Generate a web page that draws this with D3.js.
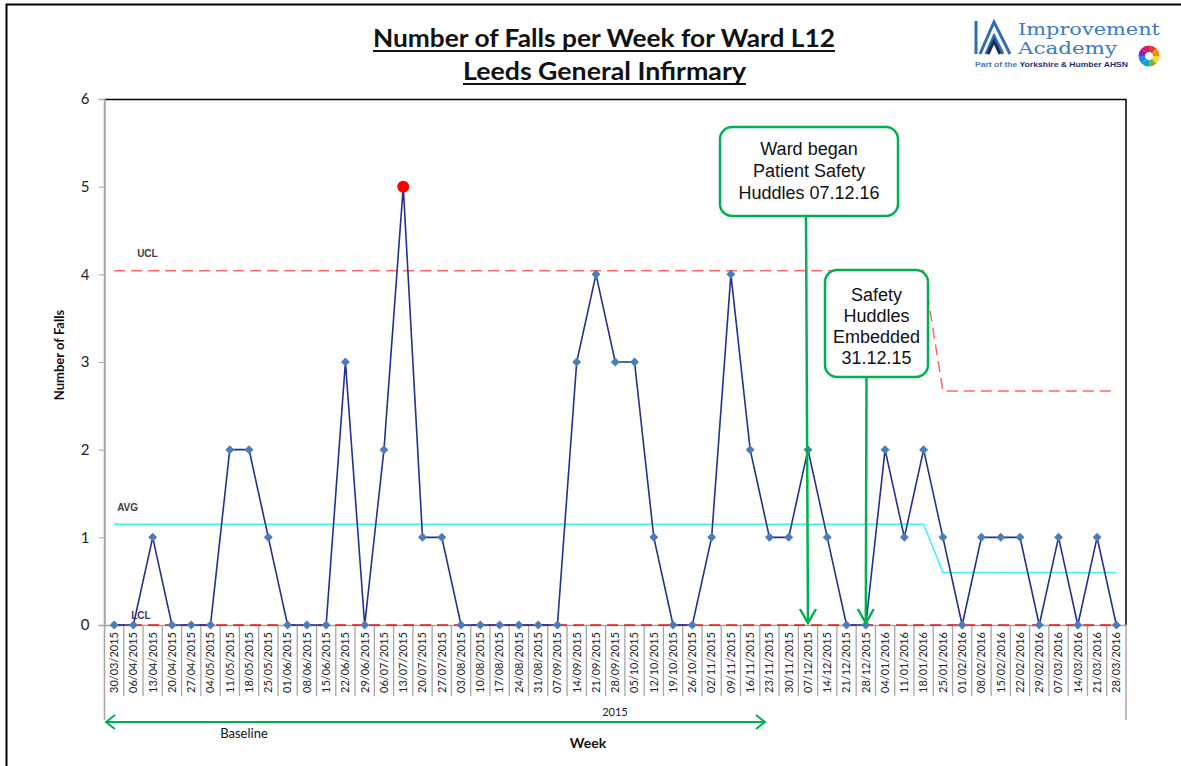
<!DOCTYPE html>
<html>
<head>
<meta charset="utf-8">
<script src="https://cdn.jsdelivr.net/npm/d3@7/dist/d3.min.js"></script>
<style>
  body { margin: 0; background: #fff; }
  svg { display: block; }
</style>
</head>
<body>
<div id="chart"></div>
<script>
// Week commencing dates (category axis)
const weeks = [
  "30/03/2015", "06/04/2015", "13/04/2015", "20/04/2015", "27/04/2015", "04/05/2015",
  "11/05/2015", "18/05/2015", "25/05/2015", "01/06/2015", "08/06/2015", "15/06/2015",
  "22/06/2015", "29/06/2015", "06/07/2015", "13/07/2015", "20/07/2015", "27/07/2015",
  "03/08/2015", "10/08/2015", "17/08/2015", "24/08/2015", "31/08/2015", "07/09/2015",
  "14/09/2015", "21/09/2015", "28/09/2015", "05/10/2015", "12/10/2015", "19/10/2015",
  "26/10/2015", "02/11/2015", "09/11/2015", "16/11/2015", "23/11/2015", "30/11/2015",
  "07/12/2015", "14/12/2015", "21/12/2015", "28/12/2015", "04/01/2016", "11/01/2016",
  "18/01/2016", "25/01/2016", "01/02/2016", "08/02/2016", "15/02/2016", "22/02/2016",
  "29/02/2016", "07/03/2016", "14/03/2016", "21/03/2016", "28/03/2016"
];

// Number of falls each week
const falls = [
  0, 0, 1, 0, 0, 0,
  2, 2, 1, 0, 0, 0,
  3, 0, 2, 5, 1, 1,
  0, 0, 0, 0, 0, 0,
  3, 4, 3, 3, 1, 0,
  0, 1, 4, 2, 1, 1,
  2, 1, 0, 0, 2, 1,
  2, 1, 0, 1, 1, 1,
  0, 1, 0, 1, 0
];

// Control limits, one value per phase (phase starts at the given week)
const phaseStarts = ["30/03/2015", "25/01/2016"];
const uclByPhase = [4.04, 2.67];
const avgByPhase = [1.15, 0.6];
const lclByPhase = [0, 0];

const yTicks = [0, 1, 2, 3, 4, 5, 6];

const annotations = [
  { week: "07/12/2015", lines: ["Ward began", "Patient Safety", "Huddles 07.12.16"] },
  { week: "28/12/2015", lines: ["Safety", "Huddles", "Embedded", "31.12.15"] }
];

// --- set up ---
const width = 1181, height = 766;
const svg = d3.select("#chart").append("svg")
  .attr("width", width)
  .attr("height", height)
  .style("font-family", "Lato, 'Open Sans', sans-serif");

const x = d3.scaleBand().domain(weeks).range([104.5, 1126]).padding(0);
const y = d3.scaleLinear().domain([0, 6]).range([625, 99]);
const cx = w => x(w) + x.bandwidth() / 2;

const phaseOf = i => {
  let p = 0;
  phaseStarts.forEach((s, k) => { if (i >= weeks.indexOf(s)) p = k; });
  return p;
};
const rows = weeks.map((w, i) => ({
  week: w,
  falls: falls[i],
  ucl: uclByPhase[phaseOf(i)],
  avg: avgByPhase[phaseOf(i)],
  lcl: lclByPhase[phaseOf(i)]
}));

// outer frame
svg.append("path")
  .attr("d", "M6.5,766 V4.5 H1181")
  .attr("fill", "none")
  .attr("stroke", "#000")
  .attr("stroke-width", 2);

// --- title ---
const titles = [
  { text: "Number of Falls per Week for Ward L12", y: 47, x1: 373, x2: 835 },
  { text: "Leeds General Infirmary", y: 80, x1: 463, x2: 746 }
];
titles.forEach(t => {
  svg.append("text")
    .attr("x", t.x1)
    .attr("y", t.y)
    .attr("textLength", t.x2 - t.x1)
    .attr("lengthAdjust", "spacingAndGlyphs")
    .attr("font-size", 25)
    .attr("font-weight", "bold")
    .attr("fill", "#111")
    .text(t.text);
  svg.append("line")
    .attr("x1", t.x1).attr("x2", t.x2)
    .attr("y1", t.y + 4).attr("y2", t.y + 4)
    .attr("stroke", "#111").attr("stroke-width", 2);
});

// --- plot frame ---
svg.append("path")
  .attr("d", "M104.5,99.5 H1126 V625")
  .attr("fill", "none").attr("stroke", "#000").attr("stroke-width", 1.5);
svg.append("line")
  .attr("x1", 1126).attr("x2", 1126).attr("y1", 625).attr("y2", 720)
  .attr("stroke", "#a6a6a6").attr("stroke-width", 1.5);
svg.append("line")
  .attr("x1", 104.5).attr("x2", 104.5).attr("y1", 99).attr("y2", 720)
  .attr("stroke", "#a6a6a6").attr("stroke-width", 1.5);

// y axis
const yAxis = svg.append("g")
  .attr("transform", "translate(104.5,0)")
  .call(d3.axisLeft(y).tickValues(yTicks).tickSize(6).tickPadding(9).tickFormat(d3.format("d")));
yAxis.select(".domain").attr("stroke", "#a6a6a6").attr("stroke-width", 1.5);
yAxis.selectAll(".tick line").attr("stroke", "#a6a6a6");
yAxis.selectAll(".tick text")
  .attr("font-size", 15).attr("fill", "#222").attr("font-family", "Lato, sans-serif");

// x axis: category separators and rotated labels
svg.append("g").selectAll("line")
  .data(weeks.slice(1))
  .join("line")
  .attr("x1", d => x(d)).attr("x2", d => x(d))
  .attr("y1", 625).attr("y2", 696)
  .attr("stroke", "#a6a6a6").attr("stroke-width", 1.3);

const xAxis = svg.append("g")
  .attr("transform", "translate(0,625)")
  .call(d3.axisBottom(x).tickSize(0).tickPadding(0));
xAxis.select(".domain").attr("stroke", "#a6a6a6").attr("stroke-width", 1.5);
xAxis.selectAll(".tick text")
  .attr("transform", "rotate(-90)")
  .attr("text-anchor", "end")
  .attr("x", -7)
  .attr("y", 0)
  .attr("dy", "0.35em")
  .attr("font-size", 11)
  .attr("fill", "#222")
  .attr("font-family", "Lato, sans-serif");

// --- control lines ---
const limitLine = key => d3.line()
  .x(d => cx(d.week))
  .y(d => y(d[key]));

svg.append("path").datum(rows)
  .attr("d", limitLine("ucl"))
  .attr("fill", "none").attr("stroke", "#ff6666").attr("stroke-width", 1.5)
  .attr("stroke-dasharray", "11,6");
svg.append("path").datum(rows)
  .attr("d", limitLine("avg"))
  .attr("fill", "none").attr("stroke", "#40f0f8").attr("stroke-width", 1.5);
svg.append("path").datum(rows)
  .attr("d", limitLine("lcl"))
  .attr("fill", "none").attr("stroke", "#ee1111").attr("stroke-width", 1.5)
  .attr("stroke-dasharray", "11,6");

const limitLabels = [
  { text: "UCL", key: "ucl", dx: 23, dy: -14 },
  { text: "AVG", key: "avg", dx: 3, dy: -13 },
  { text: "LCL", key: "lcl", dx: 17, dy: -6 }
];
svg.append("g").selectAll("text")
  .data(limitLabels)
  .join("text")
  .attr("x", d => cx(weeks[0]) + d.dx)
  .attr("y", d => y(rows[0][d.key]) + d.dy)
  .attr("font-size", 10)
  .attr("font-weight", "bold")
  .attr("fill", "#404040")
  .attr("font-family", "'Liberation Sans', Arial, sans-serif")
  .text(d => d.text);

// --- falls series ---
svg.append("path").datum(rows)
  .attr("d", d3.line().x(d => cx(d.week)).y(d => y(d.falls)))
  .attr("fill", "none")
  .attr("stroke", "#23308f")
  .attr("stroke-width", 1.6);

svg.append("g").selectAll("path")
  .data(rows)
  .join("path")
  .attr("d", d3.symbol(d3.symbolSquare, 40))
  .attr("transform", d => `translate(${cx(d.week)},${y(d.falls)}) rotate(45)`)
  .attr("fill", "#4a7ebb");

// special cause: above UCL
svg.append("g").selectAll("circle")
  .data(rows.filter(d => d.falls > d.ucl))
  .join("circle")
  .attr("cx", d => cx(d.week))
  .attr("cy", d => y(d.falls))
  .attr("r", 6)
  .attr("fill", "#ff0000");

// --- annotations ---
const green = "#00b050";
const boxes = [
  { x: 720, y: 127, w: 178, h: 89, lineH: 22, first: 155 },
  { x: 825, y: 270, w: 103, h: 107, lineH: 21, first: 301 }
];
annotations.forEach((a, i) => {
  const b = boxes[i];
  const ax = cx(a.week);
  const topX = b.x + b.w / 2 + (i === 0 ? -3 : -10);
  svg.append("line")
    .attr("x1", topX).attr("y1", b.y + b.h)
    .attr("x2", ax).attr("y2", y(0) - 2)
    .attr("stroke", green).attr("stroke-width", 2.5);
  svg.append("path")
    .attr("d", `M${ax - 8},${y(0) - 16} L${ax},${y(0) - 2} L${ax + 8},${y(0) - 16}`)
    .attr("fill", "none").attr("stroke", green).attr("stroke-width", 2.5);
  svg.append("rect")
    .attr("x", b.x).attr("y", b.y).attr("width", b.w).attr("height", b.h)
    .attr("rx", 12).attr("fill", "#fff")
    .attr("stroke", green).attr("stroke-width", 2.5);
  svg.append("g").selectAll("text")
    .data(a.lines)
    .join("text")
    .attr("x", b.x + b.w / 2)
    .attr("y", (d, k) => b.first + k * b.lineH)
    .attr("text-anchor", "middle")
    .attr("font-size", 18)
    .attr("font-family", "'Liberation Sans', Arial, sans-serif")
    .attr("fill", "#111")
    .text(d => d);
});

// --- axis titles and baseline arrow ---
svg.append("text")
  .attr("transform", "translate(64,355) rotate(-90)")
  .attr("text-anchor", "middle")
  .attr("font-size", 13).attr("font-weight", "bold")
  .attr("fill", "#111")
  .text("Number of Falls");

svg.append("text")
  .attr("x", 588).attr("y", 748)
  .attr("text-anchor", "middle")
  .attr("font-size", 14).attr("font-weight", "bold")
  .attr("fill", "#111")
  .text("Week");

svg.append("text")
  .attr("x", 615).attr("y", 716)
  .attr("text-anchor", "middle")
  .attr("font-size", 11)
  .attr("fill", "#222")
  .text("2015");

const arrowY = 722;
svg.append("path")
  .attr("d", `M106,${arrowY} H765 M115,${arrowY - 7} L106,${arrowY} L115,${arrowY + 7} M756,${arrowY - 7} L765,${arrowY} L756,${arrowY + 7}`)
  .attr("fill", "none").attr("stroke", green).attr("stroke-width", 2);

svg.append("text")
  .attr("x", 244).attr("y", 738)
  .attr("text-anchor", "middle")
  .attr("font-size", 13)
  .attr("fill", "#111")
  .text("Baseline");

// --- logo ---
const logo = svg.append("g");
logo.append("path")
  .attr("d", "M976,21 V54 M980,54 L994,22 L1010,54 M986,54 L994,36 L1003,54")
  .attr("fill", "none").attr("stroke", "#2f6db5").attr("stroke-width", 3);
logo.append("path")
  .attr("d", "M988,54 L994,41 L1000,54")
  .attr("fill", "none").attr("stroke", "#1c2f5e").attr("stroke-width", 3);
logo.append("text")
  .attr("x", 1018).attr("y", 35)
  .attr("textLength", 142).attr("lengthAdjust", "spacingAndGlyphs")
  .attr("font-size", 17).attr("font-family", "'DejaVu Serif', serif")
  .attr("fill", "#3a7ac6")
  .text("Improvement");
logo.append("text")
  .attr("x", 1018).attr("y", 54)
  .attr("textLength", 99).attr("lengthAdjust", "spacingAndGlyphs")
  .attr("font-size", 17).attr("font-family", "'DejaVu Serif', serif")
  .attr("fill", "#3a7ac6")
  .text("Academy");
const tag = logo.append("text")
  .attr("x", 975).attr("y", 67)
  .attr("textLength", 153).attr("lengthAdjust", "spacingAndGlyphs")
  .attr("font-size", 7.5).attr("font-weight", "bold")
  .attr("font-family", "'Liberation Sans', Arial, sans-serif");
tag.append("tspan").attr("fill", "#4a7ab5").text("Part of the ");
tag.append("tspan").attr("fill", "#1c2f7a").text("Yorkshire & Humber AHSN");

const rosetteColors = ["#e53935", "#fb8c00", "#fdd835", "#7cb342", "#00acc1", "#1e88e5", "#8e24aa", "#d81b60"];
const arc = d3.arc().innerRadius(4).outerRadius(10.5);
const pie = d3.pie().value(1).sort(null);
logo.append("g")
  .attr("transform", "translate(1149,56)")
  .selectAll("path")
  .data(pie(rosetteColors))
  .join("path")
  .attr("d", arc)
  .attr("fill", d => d.data);
</script>
</body>
</html>
